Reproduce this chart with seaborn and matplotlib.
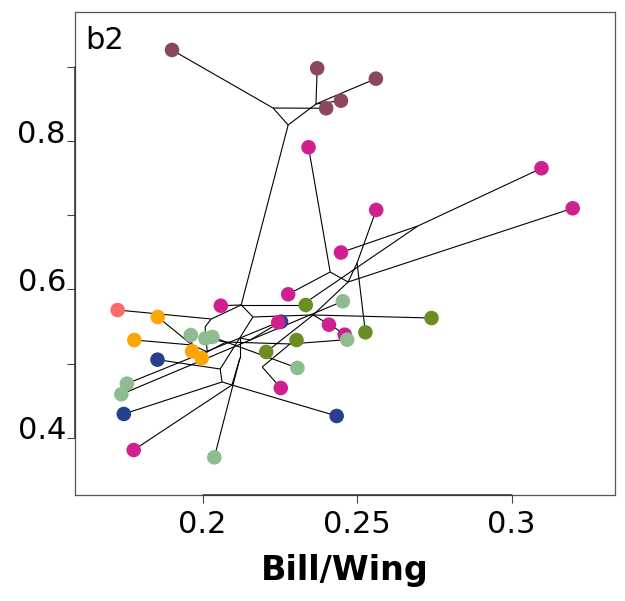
import matplotlib
matplotlib.use("Agg")
import matplotlib.pyplot as plt
import seaborn as sns
import pandas as pd
from matplotlib.transforms import ScaledTranslation

# ---- tip data (species means) ----
tip_names = ["m1", "m2", "m3", "m4", "m5",
             "p1", "p2", "p3", "p4", "p5", "p6", "p7", "p8", "p9", "p10", "p11", "p12",
             "o1", "o2", "o3", "o4", "o5",
             "s1", "s2", "s3", "s4", "s5", "s6", "s7", "s8", "s9",
             "r1", "r2", "r3", "r4",
             "n1", "n2", "n3", "n4",
             "x1"]
tip_x = [0.1901, 0.2371, 0.2561, 0.2448, 0.2400,
         0.2343, 0.3097, 0.3198, 0.2562, 0.2448, 0.2277, 0.2059, 0.2245, 0.2409, 0.2460, 0.2253, 0.1777,
         0.2334, 0.2741, 0.2527, 0.2304, 0.2206,
         0.2454, 0.1962, 0.2009, 0.2032, 0.2468, 0.2307, 0.1755, 0.1737, 0.2038,
         0.1855, 0.1779, 0.1966, 0.1997,
         0.2254, 0.1854, 0.1745, 0.2434,
         0.1725]
tip_y = [0.9232, 0.8985, 0.8845, 0.8548, 0.8445,
         0.7919, 0.7636, 0.7096, 0.7073, 0.6499, 0.5935, 0.5781, 0.5557, 0.5525, 0.5390, 0.4671, 0.3834,
         0.5791, 0.5615, 0.5422, 0.5318, 0.5157,
         0.5841, 0.5386, 0.5341, 0.5359, 0.5323, 0.4941, 0.4729, 0.4586, 0.3735,
         0.5629, 0.5318, 0.5166, 0.5072,
         0.5565, 0.5053, 0.4320, 0.4293,
         0.5723]
tip_group = (["maroon"] * 5 + ["violet"] * 12 + ["olive"] * 5 + ["sage"] * 9 +
             ["orange"] * 4 + ["navy"] * 4 + ["salmon"])

# ---- ancestral (internal node) estimates ----
node_names = ["M1", "M2", "M3", "A", "O", "K", "B", "G", "Z", "I", "H", "J",
              "C", "C2", "W", "S", "D", "E", "R", "F", "N1", "N2", "V", "U", "L"]
node_x = [0.2228, 0.2277, 0.2367, 0.2125, 0.2322, 0.2697, 0.2163, 0.2358, 0.2429, 0.2471, 0.2413, 0.2500,
          0.2028, 0.2008, 0.2015, 0.1966, 0.2057, 0.2063, 0.2095, 0.2121, 0.2154, 0.2121, 0.2076, 0.2283, 0.2193]
node_y = [0.8449, 0.8220, 0.8503, 0.5791, 0.5791, 0.6857, 0.5629, 0.5656, 0.5480, 0.6101, 0.6236, 0.6358,
          0.5602, 0.5494, 0.5157, 0.5251, 0.4927, 0.4752, 0.4711, 0.5076, 0.5318, 0.5345, 0.5291, 0.5265, 0.4954]

edge_from = ["M2", "M1", "M1", "M2", "M3", "M3", "M3", "M2",
             "A", "A", "O", "O", "K", "K", "A", "A",
             "B", "G", "G", "Z", "Z", "G", "I", "H", "H", "I", "I", "J", "J", "G",
             "C", "C", "C2", "W", "W", "S", "S", "S", "S", "W", "V", "V", "V", "V", "U", "U", "U", "L",
             "B", "D", "D", "E", "E", "R", "R", "R", "F", "F", "N2", "N2", "N2", "N1", "N1", "N1"]
edge_to = ["M1", "m1", "m5", "M3", "m2", "m3", "m4", "A",
           "p7", "O", "o1", "K", "p2", "p5", "C", "B",
           "G", "o2", "Z", "p9", "p10", "I", "H", "p1", "p6", "J", "p3", "p4", "o3", "o5",
           "x1", "C2", "W", "r4", "S", "r1", "s2", "r2", "r3", "V", "s3", "s4", "s6", "U", "o4", "s5", "L", "p11",
           "D", "n2", "E", "n3", "R", "p12", "n4", "F", "s9", "N2", "s7", "p8", "N1", "s8", "s1", "n1"]

palette = {"maroon": "#8B475D", "violet": "#D02090", "olive": "#6B8E23", "sage": "#8FBC8F",
           "orange": "#FFA500", "navy": "#27408B", "salmon": "#FF6A6A"}
hue_order = ["navy", "maroon", "violet", "olive", "sage", "orange", "salmon"]

tips = pd.DataFrame({"name": tip_names, "x": tip_x, "y": tip_y, "group": tip_group})
nodes = pd.DataFrame({"name": node_names, "x": node_x, "y": node_y})
coords = pd.concat([tips[["name", "x", "y"]], nodes]).set_index("name")

sns.set_style("ticks")
plt.rcParams["font.family"] = ["DejaVu Sans"]
plt.rcParams.update({"text.color": "black", "axes.labelcolor": "black",
                     "xtick.color": "black", "ytick.color": "black"})

fig = plt.figure(figsize=(6.25, 6.01), dpi=100)
ax = fig.add_axes([0.12, 0.1764, 0.864, 0.8037])

# tree branches
for a, b in zip(edge_from, edge_to):
    ax.plot([coords.loc[a, "x"], coords.loc[b, "x"]],
            [coords.loc[a, "y"], coords.loc[b, "y"]],
            color="black", lw=0.8, zorder=1, solid_capstyle="butt")

# tips, drawn in hue order so violet sits on navy where they overlap
tips["order"] = tips["group"].map({g: i for i, g in enumerate(hue_order)})
tips = tips.sort_values("order", kind="stable")
sns.scatterplot(data=tips, x="x", y="y", hue="group", palette=palette, s=110,
                linewidth=0, legend=False, ax=ax, zorder=3)

ax.set_xlim(0.1587, 0.3335)
ax.set_ylim(0.3227, 0.9745)

ax.set_xticks([0.2, 0.25, 0.3])
ax.set_xticklabels(["0.2", "0.25", "0.3"])
ax.set_yticks([0.4, 0.5, 0.6, 0.7, 0.8, 0.9])
ax.set_yticklabels(["0.4", "", "0.6", "", "0.8", ""])

for sp in ax.spines.values():
    sp.set_visible(True)
    sp.set_color("#555555")
    sp.set_linewidth(0.9)

ax.tick_params(axis="both", length=5.5, width=0.8, color="#444444",
               labelsize=22, labelcolor="black")
ax.tick_params(axis="x", pad=5)
ax.tick_params(axis="y", pad=1)

# R-style axis lines between the outer ticks
ax.plot([0.2, 0.3], [0, 0], transform=ax.get_xaxis_transform(), color="#333333",
        lw=1.1, clip_on=False, zorder=5)
ax.plot([0, 0], [0.4, 0.9], transform=ax.get_yaxis_transform(), color="#333333",
        lw=1.1, clip_on=False, zorder=5)

offset = ScaledTranslation(0, -1 / 72, fig.dpi_scale_trans)
for lab in ax.get_yticklabels():
    lab.set_verticalalignment("baseline")
    lab.set_transform(lab.get_transform() + offset)

ax.set_xlabel("Bill/Wing", fontsize=24, fontweight="bold", labelpad=11, color="black")
ax.set_ylabel("")
ax.text(0.0185, 0.923, "b2", transform=ax.transAxes, fontsize=22,
        ha="left", va="baseline", color="black")

fig.savefig("out.png", dpi=100)
